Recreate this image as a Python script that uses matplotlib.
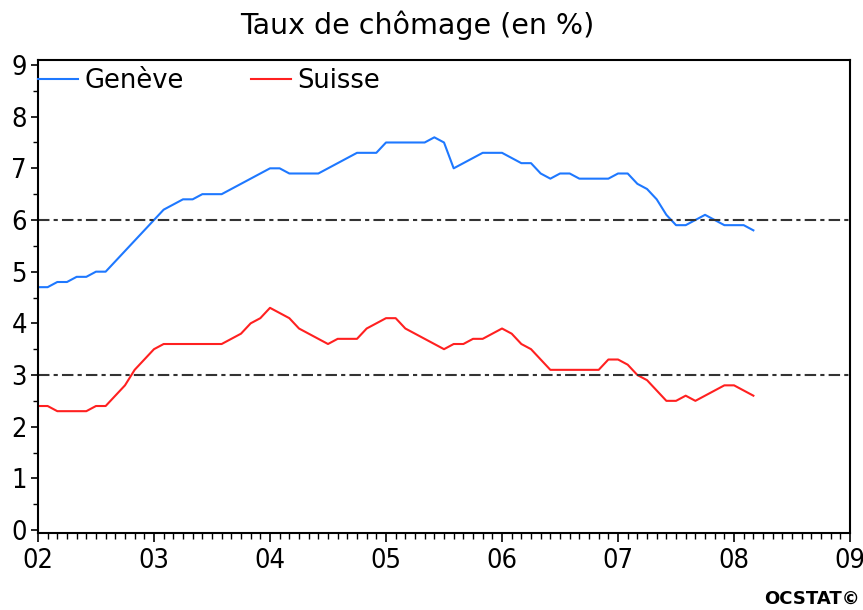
import numpy as np
import matplotlib
matplotlib.use("Agg")
import matplotlib.pyplot as plt
from matplotlib.ticker import MultipleLocator, FixedLocator

# monthly unemployment rate, jan 2002 - mar 2008
months = np.arange(2002, 2008 + 3 / 12, 1 / 12)[:75]

geneve = [4.7, 4.7, 4.8, 4.8, 4.9, 4.9, 5.0, 5.0, 5.2, 5.4, 5.6, 5.8,
          6.0, 6.2, 6.3, 6.4, 6.4, 6.5, 6.5, 6.5, 6.6, 6.7, 6.8, 6.9,
          7.0, 7.0, 6.9, 6.9, 6.9, 6.9, 7.0, 7.1, 7.2, 7.3, 7.3, 7.3,
          7.5, 7.5, 7.5, 7.5, 7.5, 7.6, 7.5, 7.0, 7.1, 7.2, 7.3, 7.3,
          7.3, 7.2, 7.1, 7.1, 6.9, 6.8, 6.9, 6.9, 6.8, 6.8, 6.8, 6.8,
          6.9, 6.9, 6.7, 6.6, 6.4, 6.1, 5.9, 5.9, 6.0, 6.1, 6.0, 5.9,
          5.9, 5.9, 5.8]

suisse = [2.4, 2.4, 2.3, 2.3, 2.3, 2.3, 2.4, 2.4, 2.6, 2.8, 3.1, 3.3,
          3.5, 3.6, 3.6, 3.6, 3.6, 3.6, 3.6, 3.6, 3.7, 3.8, 4.0, 4.1,
          4.3, 4.2, 4.1, 3.9, 3.8, 3.7, 3.6, 3.7, 3.7, 3.7, 3.9, 4.0,
          4.1, 4.1, 3.9, 3.8, 3.7, 3.6, 3.5, 3.6, 3.6, 3.7, 3.7, 3.8,
          3.9, 3.8, 3.6, 3.5, 3.3, 3.1, 3.1, 3.1, 3.1, 3.1, 3.1, 3.3,
          3.3, 3.2, 3.0, 2.9, 2.7, 2.5, 2.5, 2.6, 2.5, 2.6, 2.7, 2.8,
          2.8, 2.7, 2.6]

ref_lines = [6, 3]
years = list(range(2002, 2010))
year_labels = ["02", "03", "04", "05", "06", "07", "08", "09"]

fig = plt.figure(figsize=(8.63, 6.10), dpi=100)
ax = fig.add_axes([0.044, 0.1262, 0.941, 0.7754])

ax.plot(months, geneve, color="#1e78ff", lw=1.5, label="Genève")
ax.plot(months, suisse, color="#ff2020", lw=1.5, label="Suisse")

for v in ref_lines:
    ax.axhline(v, color="#333333", lw=1.5, dashes=(5.5, 2, 2, 2))

ax.set_xlim(2002, 2009)
ax.set_ylim(-0.058, 9.096)

ax.xaxis.set_major_locator(FixedLocator(years))
ax.xaxis.set_minor_locator(MultipleLocator(1 / 12))
ax.set_xticklabels(year_labels)
ax.yaxis.set_major_locator(MultipleLocator(1))
ax.yaxis.set_minor_locator(MultipleLocator(0.5))

# tall narrow digits like the original
for lab in ax.get_xticklabels() + ax.get_yticklabels():
    lab.set_fontfamily(["DejaVu Sans"])
    lab.set_fontstretch("condensed")
    lab.set_fontsize(19.5)

ax.tick_params(axis="x", which="major", length=6.5, width=1.2, pad=4, direction="out")
ax.tick_params(axis="x", which="minor", length=4.3, width=1.0, direction="out")
ax.tick_params(axis="y", which="major", length=5, width=1.2, pad=3, direction="out")
ax.tick_params(axis="y", which="minor", length=3.5, width=1.0, direction="out")

for sp in ax.spines.values():
    sp.set_linewidth(1.5)
    sp.set_color("black")

ax.legend(loc="center left", bbox_to_anchor=(0, 0.9556), ncol=2, frameon=False,
          fontsize=18.5, handlelength=1.55, handletextpad=0.27,
          columnspacing=2.6, borderpad=0, borderaxespad=0)

fig.text(0.483, 0.959, "Taux de chômage (en %)", ha="center", va="center",
         fontsize=20.5, family="DejaVu Sans")
fig.text(0.996, 0.004, "OCSTAT©", ha="right", va="bottom",
         fontsize=13, fontweight="bold", family="DejaVu Sans")

fig.savefig("out.png", dpi=100)
